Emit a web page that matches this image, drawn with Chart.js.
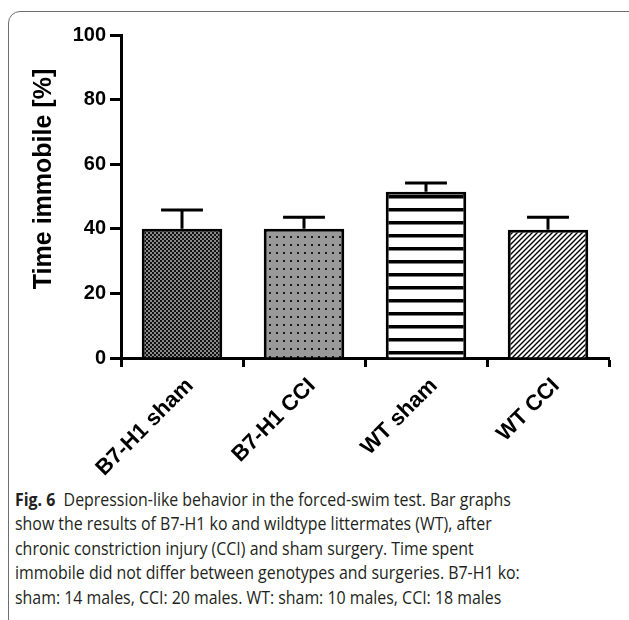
<!DOCTYPE html>
<html>
<head>
<meta charset="utf-8">
<script src="https://cdn.jsdelivr.net/npm/chart.js@4.4.1/dist/chart.umd.min.js"></script>
<style>
  html, body { margin: 0; padding: 0; background: #fff; }
  body { width: 629px; height: 620px; position: relative; overflow: hidden; }
  #frame {
    position: absolute; left: 8px; top: 11px; width: 640px; height: 620px;
    border: 1.5px solid #6e6e6e; border-radius: 12px; box-sizing: border-box;
  }
  #chartBox { position: absolute; left: 0; top: 0; width: 629px; height: 480px; }
  #caption {
    position: absolute; left: 15px; top: 487px; width: 620px;
    font-family: "Open Sans", "Noto Sans", sans-serif; font-size: 18.5px; color: #231f20;
    transform: scaleX(0.86); transform-origin: 0 0; white-space: nowrap;
  }
  #caption div { height: 24.4px; line-height: 24.4px; }
  #caption b { font-weight: 700; }
</style>
</head>
<body>
<div id="frame"></div>
<div id="chartBox"><canvas id="chart" width="629" height="480"></canvas></div>
<div id="caption">
  <div><b>Fig. 6</b>&nbsp;&nbsp;Depression-like behavior in the forced-swim test. Bar graphs</div>
  <div>show the results of B7-H1 ko and wildtype littermates (WT), after</div>
  <div>chronic constriction injury (CCI) and sham surgery. Time spent</div>
  <div>immobile did not differ between genotypes and surgeries. B7-H1 ko:</div>
  <div>sham: 14 males, CCI: 20 males. WT: sham: 10 males, CCI: 18 males</div>
</div>
<script>
// Groups and measured time immobile (mean and SEM, %)
const groups = ["B7-H1 sham", "B7-H1 CCI", "WT sham", "WT CCI"];
const meanImmobile = [40.0, 40.0, 51.5, 39.7];
const semImmobile = [5.8, 3.6, 2.7, 3.9];
const yTicks = [0, 20, 40, 60, 80, 100];

// Fill patterns for the four bars
function makeTile(w, h, draw) {
  const c = document.createElement("canvas");
  c.width = w; c.height = h;
  const g = c.getContext("2d");
  draw(g, w, h);
  return document.getElementById("chart").getContext("2d").createPattern(c, "repeat");
}
const checkerFill = makeTile(4, 4, (g) => {
  g.fillStyle = "#8a8a8a"; g.fillRect(0, 0, 4, 4);
  g.fillStyle = "#111"; g.fillRect(0, 0, 2, 2); g.fillRect(2, 2, 2, 2);
});
const dotFill = makeTile(7, 8, (g) => {
  g.fillStyle = "#999"; g.fillRect(0, 0, 7, 8);
  g.fillStyle = "#1a1a1a"; g.fillRect(3, 4, 2, 2);
});
const stripeFill = makeTile(8, 13, (g) => {
  g.fillStyle = "#fff"; g.fillRect(0, 0, 8, 13);
  g.fillStyle = "#000"; g.fillRect(0, 0, 8, 3.5);
});
const hatchFill = makeTile(5, 5, (g) => {
  g.fillStyle = "#fff"; g.fillRect(0, 0, 5, 5);
  g.strokeStyle = "#000"; g.lineWidth = 1.4;
  g.beginPath();
  g.moveTo(-1, 6); g.lineTo(6, -1);
  g.moveTo(-1, 1); g.lineTo(1, -1);
  g.moveTo(4, 6); g.lineTo(6, 4);
  g.stroke();
});
const barFills = [checkerFill, dotFill, stripeFill, hatchFill];

// Upper SEM whiskers with caps
const errorBars = {
  id: "errorBars",
  afterDatasetsDraw(chart) {
    const meta = chart.getDatasetMeta(0);
    const yScale = chart.scales.y;
    const ctx = chart.ctx;
    ctx.save();
    ctx.strokeStyle = "#000";
    ctx.lineWidth = 3;
    meta.data.forEach((bar, i) => {
      const top = yScale.getPixelForValue(meanImmobile[i] + semImmobile[i]);
      const capHalf = bar.width * 0.26;
      ctx.beginPath();
      ctx.moveTo(bar.x, bar.y);
      ctx.lineTo(bar.x, top);
      ctx.moveTo(bar.x - capHalf, top);
      ctx.lineTo(bar.x + capHalf, top);
      ctx.stroke();
    });
    ctx.restore();
  }
};

// Rotated y-axis title
const yTitle = {
  id: "yTitle",
  afterDraw(chart) {
    const ctx = chart.ctx;
    ctx.save();
    ctx.translate(44, 179);
    ctx.rotate(-Math.PI / 2);
    ctx.font = "bold 25px Arial, 'Liberation Sans', sans-serif";
    ctx.fillStyle = "#000";
    ctx.textAlign = "center";
    ctx.textBaseline = "middle";
    ctx.fillText("Time immobile [%]", 0, 0);
    ctx.restore();
  }
};

new Chart(document.getElementById("chart"), {
  type: "bar",
  data: {
    labels: groups,
    datasets: [{
      data: meanImmobile,
      backgroundColor: barFills,
      borderColor: "#000",
      borderWidth: 3,
      borderSkipped: "start",
      categoryPercentage: 1,
      barPercentage: 0.66
    }]
  },
  options: {
    responsive: false,
    animation: false,
    devicePixelRatio: 1,
    layout: { padding: { top: 35, right: 20, left: 0, bottom: 0 } },
    plugins: { legend: { display: false }, tooltip: { enabled: false } },
    scales: {
      x: {
        afterFit(s) { s.height = 122; },
        grid: { drawOnChartArea: false, drawTicks: true, tickLength: 9, tickWidth: 3, tickColor: "#000", offset: true },
        border: { display: true, width: 3, color: "#000" },
        ticks: {
          color: "#000", maxRotation: 45, minRotation: 45, padding: 6, labelOffset: 8,
          font: { family: "Arial, 'Liberation Sans', sans-serif", size: 22, weight: "bold" }
        }
      },
      y: {
        min: 0, max: 100,
        afterFit(s) { s.width = 121; },
        afterBuildTicks(s) { s.ticks = yTicks.map(v => ({ value: v })); },
        grid: { drawOnChartArea: false, drawTicks: true, tickLength: 11, tickWidth: 3, tickColor: "#000" },
        border: { display: true, width: 3, color: "#000" },
        ticks: {
          color: "#000", padding: 4,
          font: { family: "Arial, 'Liberation Sans', sans-serif", size: 20, weight: "bold" }
        }
      }
    }
  },
  plugins: [errorBars, yTitle]
});
</script>
</body>
</html>
